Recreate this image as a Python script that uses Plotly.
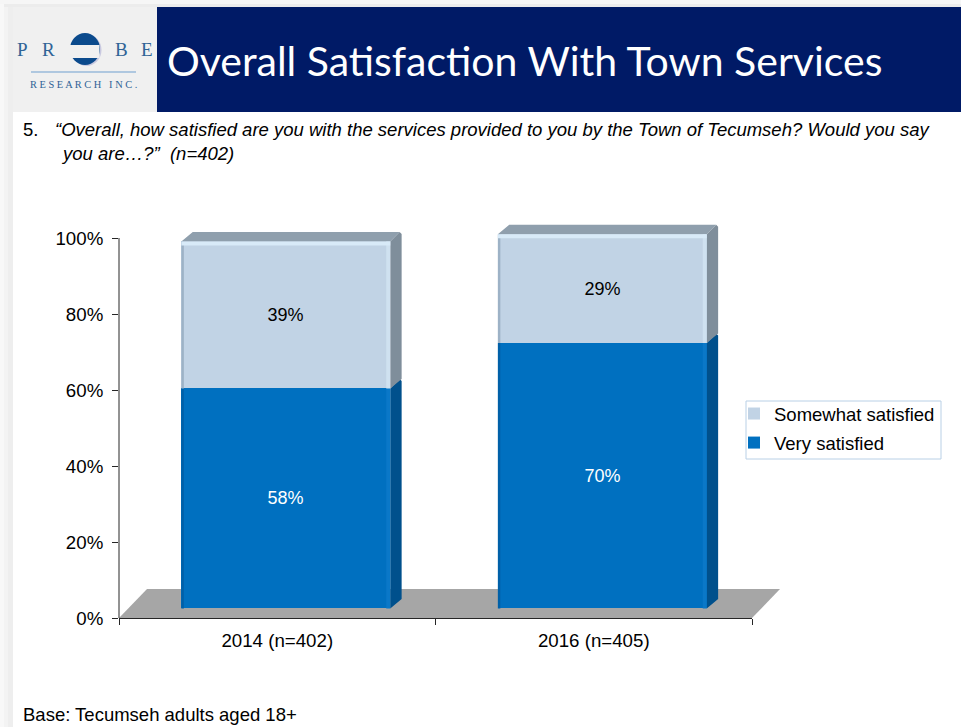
import plotly.graph_objects as go

# ---- data ----
categories = ["2014 (n=402)", "2016 (n=405)"]
very_satisfied = [57.9, 69.9]
somewhat_satisfied = [38.7, 28.6]
y_ticks = [0, 20, 40, 60, 80, 100]

W, H = 961, 727
FONT = "Liberation Sans"
LIGHT, BLUE = "#c1d3e5", "#0070c0"
BAR_OFFSET, BAR_WIDTH = -0.303, 0.66
DEPTH_X, DEPTH_Y = 0.036, 2.5       # bar depth in axis units
FLOOR_X, FLOOR_Y = 0.0885, 7.6      # floor depth in axis units
PX_X, PX_Y = 1 / 316.5, 1 / 3.8     # one pixel in axis units
Y_MAX = 106

AX_L, AX_R, AX_T, AX_B = 119, 752, 238, 618
def px(x): return x / W
def py(y): return 1 - y / H
def poly(points):
    return "M" + "L".join(f"{px(x):.5f},{py(y):.5f}" for x, y in points) + "Z"

fig = go.Figure()
fig.add_bar(x=[0, 1], y=very_satisfied, base=[DEPTH_Y] * 2, name="Very satisfied",
            legendgroup="a", legendrank=2, marker=dict(color=BLUE, line_width=0),
            offset=BAR_OFFSET, width=BAR_WIDTH,
            text=[f"{v:.0f}%" for v in very_satisfied], textposition="inside",
            insidetextanchor="middle", textangle=0,
            insidetextfont=dict(color="white", size=18, family=FONT))
base2 = [DEPTH_Y + v for v in very_satisfied]
fig.add_bar(x=[0, 1], y=somewhat_satisfied, base=base2, name="Somewhat satisfied",
            legendgroup="b", legendrank=1, marker=dict(color=LIGHT, line_width=0),
            offset=BAR_OFFSET, width=BAR_WIDTH,
            text=[f"{v:.0f}%" for v in somewhat_satisfied], textposition="inside",
            insidetextanchor="middle", textangle=0,
            insidetextfont=dict(color="black", size=18, family=FONT))

def add_faces(polys, color):
    xs, ys = [], []
    for p in polys:
        xs += [q[0] for q in p] + [p[0][0], None]
        ys += [q[1] for q in p] + [p[0][1], None]
    fig.add_scatter(x=xs, y=ys, mode="none", fill="toself", fillcolor=color,
                    showlegend=False, hoverinfo="skip")

def box_faces(bottoms, heights):
    side, top, left, right, topstrip = [], [], [], [], []
    for i, (b, h) in enumerate(zip(bottoms, heights)):
        xl = i + BAR_OFFSET
        xr = xl + BAR_WIDTH
        t = b + h
        side.append([(xr, b), (xr + DEPTH_X, b + DEPTH_Y), (xr + DEPTH_X, t + DEPTH_Y - 2 * PX_Y),
                     (xr + DEPTH_X - 2 * PX_X, t + DEPTH_Y), (xr, t)])
        top.append([(xl, t), (xl + DEPTH_X, t + DEPTH_Y), (xr + DEPTH_X - 2 * PX_X, t + DEPTH_Y), (xr, t)])
        left.append([(xl, b), (xl + 2.5 * PX_X, b), (xl + 2.5 * PX_X, t), (xl, t)])
        right.append([(xr - 4 * PX_X, b), (xr, b), (xr, t), (xr - 4 * PX_X, t)])
        topstrip.append([(xl, t), (xr, t), (xr, t - 4 * PX_Y), (xl, t - 4 * PX_Y)])
    return side, top, left, right, topstrip

s, t, l, r, ts = box_faces([DEPTH_Y] * 2, very_satisfied)
add_faces(s, "#00508c"); add_faces(l, "#0060a8"); add_faces(r, "#0a78c8")
s, t, l, r, ts = box_faces(base2, somewhat_satisfied)
add_faces(s, "#7f8e9b"); add_faces(t, "#8f9fad"); add_faces(l, "#9db2c6")
add_faces(r, "#cfe1f0"); add_faces(ts, "#d8eaf8")

# ---- decoration in page pixels ----
def pshape(**kw):
    return dict(xref="paper", yref="paper", layer="below", **kw)
def rect(x0, y0, x1, y1, color):
    return pshape(type="rect", x0=px(x0), x1=px(x1), y0=py(y0), y1=py(y1), fillcolor=color, line_width=0)

shapes = [
    rect(0, 0, 4, H, "#f8f8f8"),
    rect(4, 0, 8, H, "#f3f3f3"),
    rect(8, 0, 13, H, "#eeeeee"),
    rect(0, 0, W, 4, "#f6f6f6"),
    rect(4, 4, W, 7, "#ececec"),
    rect(13, 7, 157, 112, "#f0f0f0"),
    rect(157, 7, W, 112, "#001a66"),
    pshape(type="circle", x0=px(71.5), x1=px(101.5), y0=py(34), y1=py(66), fillcolor="#c9c9e0", line_width=0),
    pshape(type="circle", x0=px(70), x1=px(100), y0=py(33), y1=py(65), fillcolor="#0b4a8c", line_width=0),
    rect(68, 45, 99.5, 58, "#f0f0f0"),
    pshape(type="line", x0=px(31), x1=px(136), y0=py(72), y1=py(72), line=dict(color="#6f9fcf", width=1)),
    # floor under the bars
    pshape(type="path", path=poly([(AX_L, AX_B), (AX_L + FLOOR_X * 316.5, AX_B - FLOOR_Y * 3.8),
                                   (AX_R + FLOOR_X * 316.5, AX_B - FLOOR_Y * 3.8), (AX_R, AX_B)]),
           fillcolor="#a6a6a6", line_width=0),
    # legend frame
    pshape(type="rect", x0=px(746), x1=px(941), y0=py(401), y1=py(459), fillcolor="white",
           line=dict(color="#b9d0e6", width=1)),
    # value axis line stops at 100%
    dict(type="line", xref="paper", yref="paper", x0=px(AX_L), x1=px(AX_L), y0=py(AX_B), y1=py(AX_T),
         line=dict(color="#262626", width=1), layer="above"),
]

def note(text, x, y, size=18.5, color="black", family=FONT, italic=False):
    return dict(text=f"<i>{text}</i>" if italic else text, x=px(x - 2), y=py(y), xref="paper", yref="paper",
                xanchor="left", yanchor="middle", showarrow=False,
                font=dict(size=size, color=color, family=family))

logo = "#2f6396"
annotations = [
    note("Overall Satisfaction With Town Services", 167, 61, size=41, color="white", family="Lato"),
    note("5.", 23, 130),
    note("“Overall, how satisfied are you with the services provided to you by the Town of Tecumseh? Would you say", 55, 130, italic=True),
    note("you are…?”  (n=402)", 61, 153, italic=True),
    note("Base: Tecumseh adults aged 18+", 23, 714),
    note("P", 17, 49, size=19, color=logo, family="Liberation Serif"),
    note("R", 42, 49, size=19, color=logo, family="Liberation Serif"),
    note("B", 115, 49, size=19, color=logo, family="Liberation Serif"),
    note("E", 141, 49, size=19, color=logo, family="Liberation Serif"),
    note("R E S E A R C H   I N C .", 30, 84.5, size=10.4, color=logo, family="Liberation Serif"),
]

fig.update_layout(
    template="none",
    width=W, height=H, autosize=False, margin=dict(l=0, r=0, t=0, b=0, pad=0),
    paper_bgcolor="white", plot_bgcolor="rgba(0,0,0,0)", barmode="overlay", bargap=0,
    shapes=shapes, annotations=annotations,
    font=dict(family=FONT, size=18, color="black"),
    legend=dict(x=px(744), y=py(395), xanchor="left", yanchor="top", bgcolor="rgba(0,0,0,0)",
                borderwidth=0, traceorder="grouped", tracegroupgap=2,
                indentation=-10, font=dict(size=18.5, family=FONT, color="black")),
    xaxis=dict(domain=[px(AX_L), px(AX_R)], range=[-0.5, 1.5], tickmode="array", tickvals=[0, 1],
               ticktext=categories, ticks="", showgrid=False, zeroline=False, showline=True,
               linecolor="#262626", linewidth=1, ticklabelstandoff=6, automargin=False,
               tickfont=dict(size=18.7),
               minor=dict(tickmode="array", tickvals=[-0.5, 0.5, 1.5], ticks="outside", ticklen=6,
                          tickcolor="#262626", showgrid=False)),
    yaxis=dict(domain=[py(AX_B), py(AX_T - (Y_MAX - 100) * 3.8)], range=[0, Y_MAX], tickmode="array", tickvals=y_ticks,
               ticktext=[f"{v}%" for v in y_ticks], ticks="outside", ticklen=6, tickcolor="#262626",
               showgrid=False, zeroline=False, showline=False, automargin=False,
               ticklabelstandoff=5, tickfont=dict(size=18.7)),
)
fig.write_html("out.html", config={"displayModeBar": False},
               post_script="document.body.style.margin='0';")
